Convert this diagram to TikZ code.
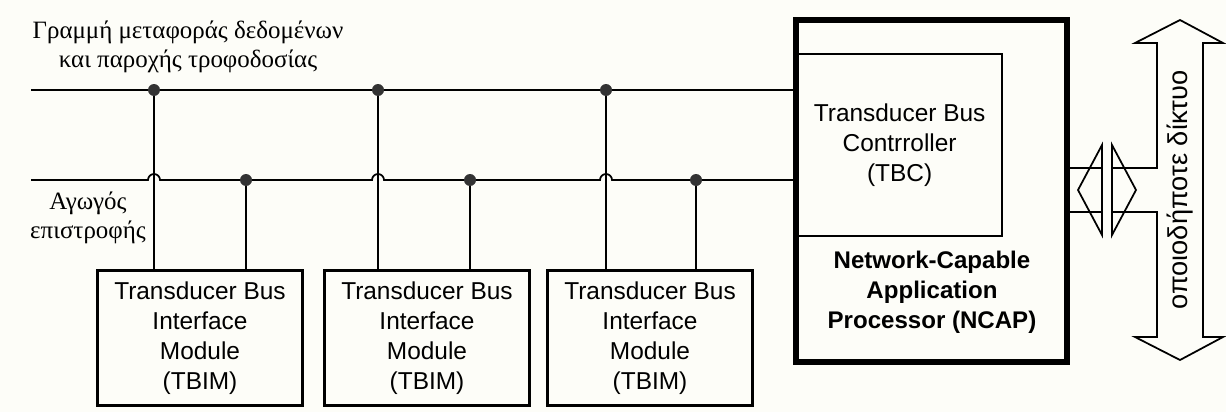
\documentclass[tikz,border=0pt]{standalone}
\usepackage{fontspec}
\setmainfont{Liberation Serif}
\setsansfont{Liberation Sans}
\usepackage{tikz}

\tikzset{
  wire/.style={line width=1pt},
  dot/.style={fill=black!80},
  modbox/.style={draw, line width=1.4pt, minimum width=4.1cm, minimum height=2.7cm,
    align=center, font=\sffamily\fontsize{13.9}{17.1}\selectfont},
  ncapbox/.style={draw, line width=3pt, minimum width=5.42cm, minimum height=6.84cm},
  tbcbox/.style={draw, line width=1.3pt, minimum width=4.1cm, minimum height=3.64cm,
    align=center, font=\sffamily\fontsize{13.9}{17.1}\selectfont},
  label/.style={align=center, font=\fontsize{14.2}{16.5}\selectfont}
}

\begin{document}
\begin{tikzpicture}[x=0.02cm, y=-0.02cm]
\fill[fill={rgb,255:red,253;green,253;blue,248}] (0,0) rectangle (1226,412);
\useasboundingbox (0,0) rectangle (1226,412);

% the modules
\node[modbox] (tbim1) at (200,338) {Transducer Bus\\Interface\\Module\\(TBIM)};
\node[modbox] (tbim2) at (427,338) {Transducer Bus\\Interface\\Module\\(TBIM)};
\node[modbox] (tbim3) at (650,338) {Transducer Bus\\Interface\\Module\\(TBIM)};

% NCAP with the TBC inside
\node[ncapbox] (ncap) at (931.5,191) {};
\node[tbcbox, anchor=north west] (tbc) at (796,53) {Transducer Bus\\Contrroller\\(TBC)};
\node[align=center, font=\sffamily\bfseries\fontsize{13.7}{17}\selectfont] (ncaptxt) at (932,292)
  {Network-Capable\\Application\\Processor (NCAP)};

% bus lines
\coordinate (bus) at (31,90);
\coordinate (ret) at (31,180);
\coordinate (t1) at (154,90);
\coordinate (t2) at (378,90);
\coordinate (t3) at (606,90);
\coordinate (r1) at (246,180);
\coordinate (r2) at (470,180);
\coordinate (r3) at (696,180);

\draw[wire] (bus) -- (ncap.west |- bus);
\draw[wire] (ret) -- ([xshift=-0.12cm]t1 |- ret) arc[start angle=180, end angle=0, radius=0.12cm]
  -- ([xshift=-0.12cm]t2 |- ret) arc[start angle=180, end angle=0, radius=0.12cm]
  -- ([xshift=-0.12cm]t3 |- ret) arc[start angle=180, end angle=0, radius=0.12cm]
  -- (ncap.west |- ret);

% drops to the modules
\draw[wire] (t1) -- (t1 |- tbim1.north);
\draw[wire] (r1) -- (r1 |- tbim1.north);
\draw[wire] (t2) -- (t2 |- tbim2.north);
\draw[wire] (r2) -- (r2 |- tbim2.north);
\draw[wire] (t3) -- (t3 |- tbim3.north);
\draw[wire] (r3) -- (r3 |- tbim3.north);
\fill[dot] (t1) circle[radius=0.12cm];
\fill[dot] (t2) circle[radius=0.12cm];
\fill[dot] (t3) circle[radius=0.12cm];
\fill[dot] (r1) circle[radius=0.12cm];
\fill[dot] (r2) circle[radius=0.12cm];
\fill[dot] (r3) circle[radius=0.12cm];

% network interface
\draw[wire, line join=miter] (1102,145) -- (1078,190) -- (1102,235) -- cycle;
\draw[wire, line join=miter] (1112,145) -- (1136,190) -- (1112,235) -- cycle;
\draw[wire] (ncap.east |- 0,168) -- (1102,168);
\draw[wire] (ncap.east |- 0,212) -- (1102,212);
\draw[wire, line join=miter] (1112,168) -- (1157,168) -- (1157,43) -- (1135,43) -- (1180,20)
  -- (1223,43) -- (1203,43) -- (1203,337) -- (1223,337) -- (1180,360) -- (1135,337)
  -- (1157,337) -- (1157,212) -- (1112,212);
\node[rotate=90, font=\sffamily\fontsize{15.5}{18}\selectfont] (net) at (1180,190) {οποιοδήποτε δίκτυο};

% labels
\node[label] (buslbl) at (188,47) {Γραμμή μεταφοράς δεδομένων\\και παροχής τροφοδοσίας};
\node[label] (retlbl) at (88,218) {Αγωγός\\επιστροφής};
\end{tikzpicture}
\end{document}
